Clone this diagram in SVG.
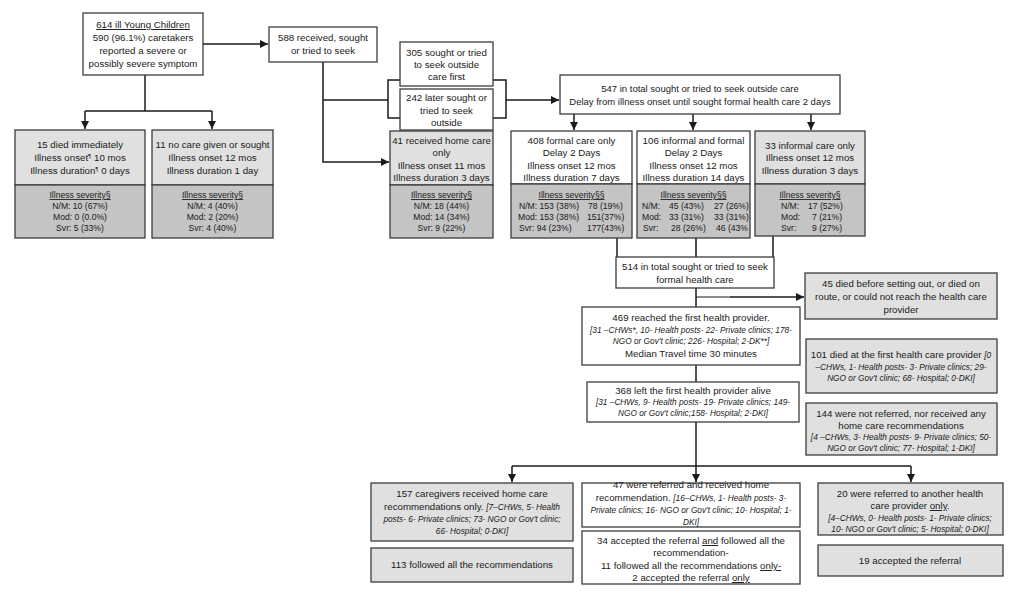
<svg xmlns="http://www.w3.org/2000/svg" width="1024" height="595" viewBox="0 0 1024 595">
<defs>
<style>
.w{fill:#ffffff;stroke:#3c3c3c;stroke-width:1.3}
.g{fill:#e0e0e0;stroke:#3c3c3c;stroke-width:1.3}
.d{fill:#c4c4c4;stroke:#3c3c3c;stroke-width:1.3}
text{font-family:"Liberation Sans",Arial,sans-serif;fill:#1a1a1a}
.t{font-size:9.7px;text-anchor:middle}
.t5{font-size:9.5px;text-anchor:middle}
.i{font-size:8.3px;font-style:italic;text-anchor:middle}
.s{font-size:8.6px;text-anchor:middle}
.sl{font-size:8.6px}
.u{text-decoration:underline}
.it{font-style:italic;font-size:8.3px}
.sup{font-size:6px}
.c{fill:none;stroke:#1a1a1a;stroke-width:1.5}
.c2{fill:none;stroke:#1a1a1a;stroke-width:1.1}
</style>
<marker id="ar" viewBox="0 0 8 8" refX="8" refY="4" markerWidth="8" markerHeight="8" markerUnits="userSpaceOnUse" orient="auto">
<path d="M0,0 L8,4 L0,8 z" fill="#1a1a1a"/>
</marker>
</defs>
<rect width="1024" height="595" fill="#ffffff"/>

<g id="connectors">
<path class="c" d="M203,44 H268" marker-end="url(#ar)"/>
<path class="c" d="M145,75 V111 M85,111 H212"/>
<path class="c" d="M85,111 V129" marker-end="url(#ar)"/>
<path class="c" d="M212,111 V129" marker-end="url(#ar)"/>
<path class="c" d="M323,62 V162 H389" marker-end="url(#ar)"/>
<path class="c" d="M323,100 H388 M400,80 H388 V118 H400 M493,80 H506 V118 H493"/>
<path class="c" d="M506,100 H559" marker-end="url(#ar)"/>
<path class="c" d="M574,114 V130" marker-end="url(#ar)"/>
<path class="c" d="M693,114 V130" marker-end="url(#ar)"/>
<path class="c" d="M811,114 V130" marker-end="url(#ar)"/>
<path class="c" d="M617,238 V257 M696,238 V257 M773,236 V257"/>
<path class="c" d="M696,288 V307"/>
<path class="c2" d="M696,297 H730"/>
<path class="c" d="M730,297 H804" marker-end="url(#ar)"/>
<path class="c" d="M696,365 V382"/>
<path class="c" d="M696,422 V482" marker-end="url(#ar)"/>
<path class="c" d="M512,466 H911"/>
<path class="c" d="M512,466 V482" marker-end="url(#ar)"/>
<path class="c" d="M911,466 V482" marker-end="url(#ar)"/>
</g>

<g id="n614">
<rect class="w" x="83" y="13" width="120" height="62"/>
<text class="t" x="143" y="28"><tspan class="u">614 ill Young Children</tspan></text>
<text class="t" x="143" y="41">590 (96.1%) caretakers</text>
<text class="t" x="143" y="54">reported a severe or</text>
<text class="t" x="143" y="67">possibly severe symptom</text>
</g>

<g id="n588">
<rect class="w" x="269" y="27" width="108" height="35"/>
<text class="t" x="323" y="41">588 received, sought</text>
<text class="t" x="323" y="54">or tried to seek</text>
</g>

<g id="n15">
<rect class="g" x="15" y="130" width="130" height="55"/>
<rect class="d" x="15" y="185" width="130" height="53"/>
<text class="t" x="80" y="148">15 died immediately</text>
<text class="t" x="80" y="161">Illness onset<tspan class="sup" dy="-3">¶</tspan><tspan dy="3"> 10 mos</tspan></text>
<text class="t" x="80" y="174">Illness duration<tspan class="sup" dy="-3">¶</tspan><tspan dy="3"> 0 days</tspan></text>
<text class="s" x="80" y="198"><tspan class="u">Illness severity§</tspan></text>
<text class="s" x="80" y="209">N/M: 10 (67%)</text>
<text class="s" x="80" y="220">Mod: 0 (0.0%)</text>
<text class="s" x="80" y="231">Svr: 5 (33%)</text>
</g>

<g id="n11">
<rect class="g" x="152" y="130" width="121" height="55"/>
<rect class="d" x="152" y="185" width="121" height="53"/>
<text class="t" x="212.5" y="148">11 no care given or sought</text>
<text class="t" x="212.5" y="161">Illness onset 12 mos</text>
<text class="t" x="212.5" y="174">Illness duration 1 day</text>
<text class="s" x="212.5" y="198"><tspan class="u">Illness severity§</tspan></text>
<text class="s" x="212.5" y="209">N/M: 4 (40%)</text>
<text class="s" x="212.5" y="220">Mod: 2 (20%)</text>
<text class="s" x="212.5" y="231">Svr: 4 (40%)</text>
</g>

<g id="n305">
<rect class="w" x="400" y="42" width="93" height="44"/>
<text class="t" x="446.5" y="56">305 sought or tried</text>
<text class="t" x="446.5" y="68">to seek outside</text>
<text class="t" x="446.5" y="80">care first</text>
</g>

<g id="n242">
<rect class="w" x="400" y="89" width="93" height="41"/>
<text class="t" x="446.5" y="101">242 later sought or</text>
<text class="t" x="446.5" y="114">tried to seek</text>
<text class="t" x="446.5" y="126">outside</text>
</g>

<g id="n547">
<rect class="w" x="560" y="75" width="280" height="39"/>
<text class="t5" x="700" y="92">547 in total sought or tried to seek outside care</text>
<text class="t5" x="700" y="105">Delay from illness onset until sought formal health care 2 days</text>
</g>

<g id="n41">
<rect class="g" x="390" y="131" width="103" height="54"/>
<rect class="d" x="390" y="185" width="103" height="53"/>
<text class="t" x="441.5" y="144">41 received home care</text>
<text class="t" x="441.5" y="156">only</text>
<text class="t" x="441.5" y="169">Illness onset 11 mos</text>
<text class="t" x="441.5" y="181">Illness duration 3 days</text>
<text class="s" x="441.5" y="198"><tspan class="u">Illness severity§</tspan></text>
<text class="s" x="441.5" y="209">N/M: 18 (44%)</text>
<text class="s" x="441.5" y="220">Mod: 14 (34%)</text>
<text class="s" x="441.5" y="231">Svr: 9 (22%)</text>
</g>

<g id="n408">
<rect class="w" x="511" y="131" width="121" height="53"/>
<rect class="d" x="511" y="184" width="121" height="54"/>
<text class="t" x="571.5" y="144">408 formal care only</text>
<text class="t" x="571.5" y="156">Delay 2 Days</text>
<text class="t" x="571.5" y="169">Illness onset 12 mos</text>
<text class="t" x="571.5" y="181">Illness duration 7 days</text>
<text class="s" x="571.5" y="198"><tspan class="u">Illness severity§§</tspan></text>
<text class="sl" x="519" y="209">N/M: 153 (38%)</text>
<text class="sl" x="588" y="209">78 (19%)</text>
<text class="sl" x="518" y="220">Mod: 153 (38%)</text>
<text class="sl" x="587" y="220">151(37%)</text>
<text class="sl" x="519" y="231">Svr: 94 (23%)</text>
<text class="sl" x="587" y="231">177(43%)</text>
</g>

<g id="n106">
<rect class="w" x="637" y="131" width="113" height="53"/>
<rect class="d" x="637" y="184" width="113" height="54"/>
<text class="t" x="693.5" y="144">106 informal and formal</text>
<text class="t" x="693.5" y="156">Delay 2 Days</text>
<text class="t" x="693.5" y="169">Illness onset 12 mos</text>
<text class="t" x="693.5" y="181">Illness duration 14 days</text>
<text class="s" x="693.5" y="198"><tspan class="u">Illness severity§§</tspan></text>
<text class="sl" x="642" y="209">N/M:</text>
<text class="sl" x="669" y="209">45 (43%)</text>
<text class="sl" x="714" y="209">27 (26%)</text>
<text class="sl" x="642" y="220">Mod:</text>
<text class="sl" x="669" y="220">33 (31%)</text>
<text class="sl" x="714" y="220">33 (31%)</text>
<text class="sl" x="643" y="231">Svr:</text>
<text class="sl" x="671" y="231">28 (26%)</text>
<text class="sl" x="716" y="231">46 (43%</text>
</g>

<g id="n33">
<rect class="g" x="755" y="131" width="110" height="53"/>
<rect class="d" x="755" y="184" width="110" height="52"/>
<text class="t" x="810" y="149">33 informal care only</text>
<text class="t" x="810" y="161">Illness onset 12 mos</text>
<text class="t" x="810" y="174">Illness duration 3 days</text>
<text class="s" x="810" y="198"><tspan class="u">Illness severity§</tspan></text>
<text class="sl" x="781" y="209">N/M:</text>
<text class="sl" x="808" y="209">17 (52%)</text>
<text class="sl" x="781" y="220">Mod:</text>
<text class="sl" x="812" y="220">7 (21%)</text>
<text class="sl" x="781" y="231">Svr:</text>
<text class="sl" x="812" y="231">9 (27%)</text>
</g>

<g id="n514">
<rect class="w" x="616" y="257" width="158" height="31"/>
<text class="t" x="695" y="270">514 in total sought or tried to seek</text>
<text class="t" x="695" y="283">formal health care</text>
</g>

<g id="n45">
<rect class="g" x="805" y="273" width="192" height="46"/>
<text class="t" x="901" y="287">45 died before setting out, or died on</text>
<text class="t" x="901" y="300">route, or could not reach the health care</text>
<text class="t" x="901" y="313">provider</text>
</g>

<g id="n469">
<rect class="w" x="582" y="307" width="218" height="58"/>
<text class="t" x="691" y="321">469 reached the first health provider.</text>
<text class="i" x="691" y="333">[31 –CHWs*, 10- Health posts- 22- Private clinics; 178-</text>
<text class="i" x="691" y="344">NGO or Gov't clinic; 226- Hospital; 2-DK**]</text>
<text class="t" x="691" y="357">Median Travel time 30 minutes</text>
</g>

<g id="n101">
<rect class="g" x="806" y="339" width="191" height="54"/>
<text class="t" x="901" y="358">101 died at the first health care provider <tspan class="it">[0</tspan></text>
<text class="i" x="901" y="370">–CHWs, 1- Health posts- 3- Private clinics; 29-</text>
<text class="i" x="901" y="381">NGO or Gov't clinic; 68- Hospital; 0-DKI]</text>
</g>

<g id="n368">
<rect class="w" x="587" y="382" width="212" height="40"/>
<text class="t" x="693" y="394">368 left the first health provider alive</text>
<text class="i" x="693" y="405">[31 –CHWs, 9- Health posts- 19- Private clinics; 149-</text>
<text class="i" x="693" y="416">NGO or Gov't clinic;158- Hospital; 2-DKI]</text>
</g>

<g id="n144">
<rect class="g" x="806" y="403" width="191" height="52"/>
<text class="t" x="901" y="417">144 were not referred, nor received any</text>
<text class="t" x="901" y="429">home care recommendations</text>
<text class="i" x="901" y="440">[4 –CHWs, 3- Health posts- 9- Private clinics; 50-</text>
<text class="i" x="901" y="451">NGO or Gov't clinic; 77- Hospital; 1-DKI]</text>
</g>

<g id="n157">
<rect class="g" x="371" y="483" width="202" height="58"/>
<text class="t" x="472" y="497">157 caregivers received home care</text>
<text class="t" x="472" y="510">recommendations only. <tspan class="it">[7–CHWs, 5- Health</tspan></text>
<text class="i" x="472" y="522">posts- 6- Private clinics; 73- NGO or Gov't clinic;</text>
<text class="i" x="472" y="534">66- Hospital; 0-DKI]</text>
</g>

<g id="n113">
<rect class="g" x="371" y="548" width="202" height="34"/>
<text class="t" x="472" y="568">113 followed all the recommendations</text>
</g>

<g id="n47">
<rect class="w" x="582" y="483" width="218" height="44"/>
<text class="t" x="691" y="488">47 were referred and received home</text>
<text class="t" x="691" y="501">recommendation.  <tspan class="it">[16–CHWs, 1- Health posts- 3-</tspan></text>
<text class="i" x="691" y="513">Private clinics; 16- NGO or Gov't clinic; 10- Hospital; 1-</text>
<text class="i" x="691" y="525">DKI]</text>
</g>

<g id="n34">
<rect class="w" x="582" y="531" width="218" height="53"/>
<text class="t" x="691" y="544">34 accepted the referral <tspan class="u">and</tspan> followed all the</text>
<text class="t" x="691" y="556">recommendation-</text>
<text class="t" x="691" y="569">11 followed all the recommendations <tspan class="u">only-</tspan></text>
<text class="t" x="691" y="581">2 accepted the referral <tspan class="u">only</tspan></text>
</g>

<g id="n20">
<rect class="g" x="818" y="483" width="185" height="52"/>
<text class="t" x="910" y="497">20 were referred to another health</text>
<text class="t" x="910" y="509">care provider <tspan class="u">only</tspan>.</text>
<text class="i" x="910" y="521">[4–CHWs, 0- Health posts- 1- Private clinics;</text>
<text class="i" x="910" y="532">10- NGO or Gov't clinic; 5- Hospital; 0-DKI]</text>
</g>

<g id="n19">
<rect class="g" x="818" y="545" width="185" height="31"/>
<text class="t" x="910" y="564">19 accepted the referral</text>
</g>
</svg>
